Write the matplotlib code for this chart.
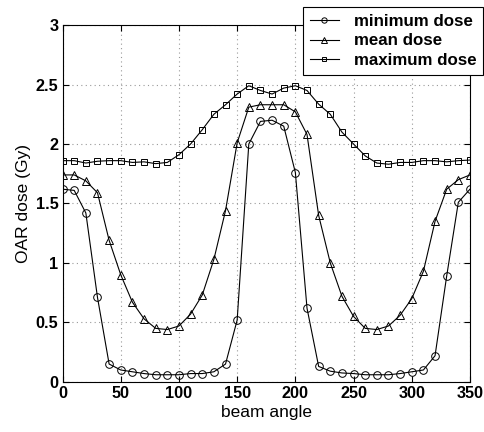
import numpy as np
import matplotlib.pyplot as plt

plt.rcParams['font.family'] = ['Liberation Sans', 'DejaVu Sans']
plt.rcParams['font.weight'] = 'bold'

# Strahlwinkel in Grad
angles = list(range(0, 360, 10))

min_dose = [1.62, 1.61, 1.42, 0.71, 0.15, 0.10, 0.085, 0.07, 0.06, 0.06,
            0.06, 0.07, 0.07, 0.085, 0.15, 0.52, 2.00, 2.19, 2.20, 2.15,
            1.76, 0.62, 0.13, 0.09, 0.075, 0.07, 0.06, 0.06, 0.06, 0.07,
            0.085, 0.10, 0.22, 0.89, 1.51, 1.62]
mean_dose = [1.74, 1.74, 1.69, 1.59, 1.19, 0.90, 0.67, 0.53, 0.45, 0.44,
             0.47, 0.57, 0.73, 1.03, 1.44, 2.01, 2.31, 2.33, 2.33, 2.33,
             2.27, 2.08, 1.40, 1.00, 0.72, 0.55, 0.45, 0.44, 0.47, 0.56,
             0.70, 0.93, 1.35, 1.62, 1.70, 1.74]
max_dose = [1.86, 1.86, 1.84, 1.855, 1.86, 1.86, 1.845, 1.85, 1.835, 1.845,
            1.91, 2.00, 2.12, 2.25, 2.33, 2.42, 2.49, 2.45, 2.42, 2.47,
            2.49, 2.45, 2.335, 2.25, 2.10, 2.00, 1.90, 1.84, 1.83, 1.845,
            1.845, 1.86, 1.86, 1.85, 1.86, 1.865]

xticks = [0, 50, 100, 150, 200, 250, 300, 350]
yticks = [0, 0.5, 1, 1.5, 2, 2.5, 3]
ytick_labels = ["0", "0.5", "1", "1.5", "2", "2.5", "3"]

fig = plt.figure(figsize=(4.85, 4.32), dpi=100)
ax = fig.add_axes([0.129, 0.116, 0.840, 0.826])

style = dict(color="black", linewidth=0.8, markerfacecolor="none",
             markeredgecolor="black", markeredgewidth=0.7)
ax.plot(angles, min_dose, marker="o", markersize=5.5, label="minimum dose", **style)
ax.plot(angles, mean_dose, marker="^", markersize=6, label="mean dose", **style)
ax.plot(angles, max_dose, marker="s", markersize=4.5, label="maximum dose", **style)

ax.set_xlim(0, 350)
ax.set_ylim(0, 3)
ax.set_xticks(xticks)
ax.set_yticks(yticks)
ax.set_yticklabels(ytick_labels)
ax.tick_params(direction="in", top=True, right=True, labelsize=11.7, length=4, pad=3)
ax.grid(True, linestyle=(0, (1, 3)), color="#999999", linewidth=0.8)

ax.set_xlabel("beam angle", fontsize=12.5, labelpad=3)
ax.set_ylabel("OAR dose (Gy)", fontsize=12.5, labelpad=3)

leg = ax.legend(loc="upper left", bbox_to_anchor=(0.625, 0.984),
                bbox_transform=fig.transFigure, borderaxespad=0,
                fontsize=12.2, fancybox=False, handlelength=1.7,
                handletextpad=0.9, labelspacing=0.28, borderpad=0.4,
                markerscale=0.7)
leg.get_frame().set_edgecolor("black")
leg.get_frame().set_linewidth(0.8)
leg.get_frame().set_alpha(1)

fig.savefig("out.png", dpi=100)
